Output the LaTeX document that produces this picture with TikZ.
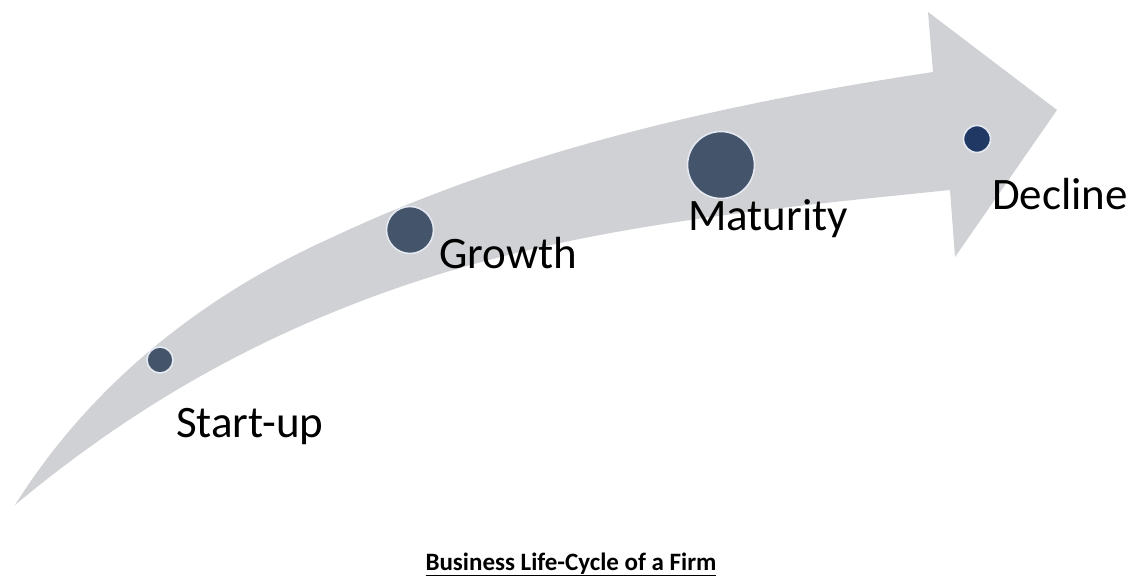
\documentclass[tikz,border=0pt]{standalone}
\usepackage{fontspec}
\setmainfont{Carlito}
\definecolor{arrowgray}{HTML}{D0D1D4}
\definecolor{dotfill}{HTML}{44546A}
\definecolor{dotdark}{HTML}{1F3864}
\definecolor{dotrim}{HTML}{E4E9F2}
\begin{document}
\begin{tikzpicture}[x=1pt,y=-1pt,
  stage/.style={anchor=base west,inner sep=0pt,font=\fontsize{45}{54}\selectfont},
  dot/.style={circle,fill=dotfill,draw=dotrim,line width=1.6pt,inner sep=0pt}]
\useasboundingbox (0,0) rectangle (1130,581);
% curved arrow
\fill[arrowgray] (15,505) .. controls (95,378) and (210,292) .. (333,237)
  .. controls (520,149) and (728,103) .. (933,72)
  -- (928,12) -- (1057,110) -- (955,257) -- (950,190)
  .. controls (765,209) and (576,226) .. (400,287)
  .. controls (258,336) and (135,405) .. (15,505) -- cycle;
% dots
\node[dot,minimum size=26pt] (d1) at (160,360) {};
\node[dot,minimum size=47pt] (d2) at (410,230) {};
\node[dot,minimum size=67pt] (d3) at (721,165) {};
\node[dot,fill=dotdark,minimum size=27pt] (d4) at (977,139) {};
% labels
\node[stage] (l1) at (176,437) {Start-up};
\node[stage] (l2) at (439,268) {Growth};
\node[stage] (l3) at (688,230) {Maturity};
\node[stage] (l4) at (992,209) {Decline};
% title
\node[anchor=base,inner sep=0pt,font=\fontsize{25}{30}\selectfont\bfseries] (title) at (571,570) {\underline{Business Life-Cycle of a Firm}};
\end{tikzpicture}
\end{document}
